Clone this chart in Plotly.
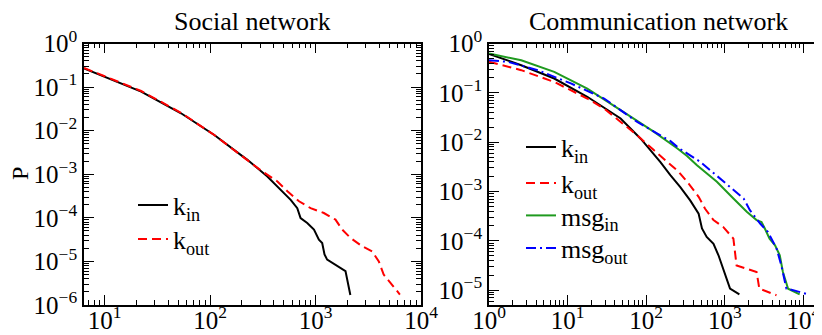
import plotly.graph_objects as go

# ---------------- data ----------------
# Social network (left panel)
soc_kin_x = [6.37, 10, 22.2, 53.0, 109.6, 195, 226, 349, 467, 581, 671, 721, 834, 966,
             1076, 1156, 1216, 1288, 1923, 2138]
soc_kin_p = [0.268, 0.174, 0.0785, 0.0251, 7.94e-3, 2.78e-3, 2.14e-3, 8.9e-4, 4.4e-4, 2.59e-4,
             1.67e-4, 9.9e-5, 7.6e-5, 5.4e-5, 3.16e-5, 2.65e-5, 1.45e-5, 1.10e-5, 6.0e-6, 1.7e-6]
soc_kout_x = [6.37, 10, 22.2, 53.0, 109.6, 195, 313, 435, 541, 697, 897, 1199, 1545, 1786,
              2143, 2754, 3436, 3981, 4426, 6310]
soc_kout_p = [0.275, 0.178, 0.0813, 0.0257, 7.94e-3, 2.75e-3, 1.16e-3, 6.84e-4, 4.07e-4, 2.40e-4,
              1.67e-4, 1.29e-4, 9.1e-5, 5.4e-5, 3.47e-5, 2.24e-5, 1.70e-5, 1.0e-5, 5.0e-6, 1.74e-6]

# Communication network (right panel)
com_kin_x = [1, 2.57, 6.76, 17.8, 47.3, 85.1, 151, 203, 272, 363, 465, 513, 589, 719, 832,
             955, 1059, 1167, 1535]
com_kin_p = [0.617, 0.363, 0.195, 0.0832, 0.0302, 0.01175, 3.98e-3, 2.14e-3, 1.23e-3, 6.6e-4,
             3.55e-4, 1.78e-4, 1.20e-4, 8.7e-5, 5.1e-5, 2.75e-5, 1.70e-5, 1.07e-5, 8.2e-6]
com_kout_x = [1, 2.57, 6.76, 17.8, 29.2, 76.9, 125, 185, 259, 347, 465, 562, 719, 955, 1288,
              1413, 1905, 2541, 2754, 4550]
com_kout_p = [0.427, 0.288, 0.166, 0.0767, 0.0479, 0.0138, 6.9e-3, 3.98e-3, 2.51e-3, 1.45e-3,
              7.8e-4, 4.47e-4, 2.63e-4, 1.91e-4, 1.11e-4, 3.16e-5, 2.75e-5, 2.34e-5, 1.07e-5, 7.9e-6]
com_msgin_x = [1, 2.57, 6.76, 17.8, 47.3, 126, 245, 331, 443, 794, 1288, 1905, 2541, 2938,
               3236, 3715, 4365, 5012, 5495, 6397, 8974]
com_msgin_p = [0.627, 0.457, 0.266, 0.122, 0.0447, 0.0162, 7.6e-3, 5.25e-3, 3.39e-3, 1.58e-3,
               7.2e-4, 3.89e-4, 2.63e-4, 2.40e-4, 1.78e-4, 1.11e-4, 8.1e-5, 5.1e-5, 2.34e-5,
               1.07e-5, 8.2e-6]
com_msgout_x = [1, 1.74, 4.17, 11.0, 29.2, 76.9, 204, 259, 490, 955, 1738, 2089, 2818, 3548,
                4571, 5248, 6095, 7413, 11482]
com_msgout_p = [0.457, 0.425, 0.288, 0.155, 0.0767, 0.0257, 0.0105, 7.6e-3, 3.98e-3, 1.58e-3,
                7.2e-4, 4.17e-4, 2.24e-4, 1.51e-4, 6.9e-5, 3.16e-5, 1.07e-5, 1.0e-5, 8.2e-6]

titles = ["Social network", "Communication network"]
y_title = "P"
names = ["k<sub>in</sub>", "k<sub>out</sub>", "msg<sub>in</sub>", "msg<sub>out</sub>"]

left_xticks = [1, 2, 3, 4]
left_yticks = [0, -1, -2, -3, -4, -5, -6]
right_xticks = [0, 1, 2, 3, 4]
right_yticks = [0, -1, -2, -3, -4, -5]

# ---------------- styling ----------------
W, H = 822, 335
FONT = "Liberation Serif, Times New Roman, serif"
BLACK = "#000000"
RED = "#ff0000"
GREEN = "#1f9a1f"
BLUE = "#0000ff"
DASH = "9px,5px"
DASHDOT = "10px,4px,2px,4px"


def px2x(p):
    return p / W


def py2y(p):
    return 1 - p / H


fig = go.Figure()

# each legend entry gets its own legend box so it can be placed like the reference
legend_pos = {
    "legend": (125, 197), "legend2": (125, 231),
    "legend3": (513, 139), "legend4": (513, 175), "legend5": (513, 207.5), "legend6": (513, 240),
}


def add(x, y, name, color, dash, xa, ya, legend):
    fig.add_trace(go.Scatter(x=x, y=y, name=name, mode="lines",
                             line=dict(color=color, width=2, dash=dash),
                             xaxis=xa, yaxis=ya, legend=legend))


add(soc_kin_x, soc_kin_p, names[0], BLACK, "solid", "x", "y", "legend")
add(soc_kout_x, soc_kout_p, names[1], RED, DASH, "x", "y", "legend2")
add(com_kin_x, com_kin_p, names[0], BLACK, "solid", "x2", "y2", "legend3")
add(com_kout_x, com_kout_p, names[1], RED, DASH, "x2", "y2", "legend4")
add(com_msgin_x, com_msgin_p, names[2], GREEN, "solid", "x2", "y2", "legend5")
add(com_msgout_x, com_msgout_p, names[3], BLUE, DASHDOT, "x2", "y2", "legend6")


def pw(e):
    return "10<sup>%s</sup>" % (str(e).replace("-", "\u2212"))


def minor_vals(lo, hi):
    return [m * 10.0 ** e for e in range(lo, hi) for m in range(2, 10)]


def axis(domain, rng, ticks_e, minor_lo, minor_hi, anchor, standoff):
    return dict(
        type="log", domain=domain, range=rng, anchor=anchor,
        tickmode="array", tickvals=[10.0 ** e for e in ticks_e],
        ticktext=[pw(e) for e in ticks_e],
        ticks="inside", ticklen=10, tickwidth=1, tickcolor=BLACK,
        showline=True, linewidth=1.6, linecolor=BLACK, mirror="allticks",
        showgrid=False, zeroline=False, automargin=False,
        ticklabelstandoff=standoff,
        tickfont=dict(family=FONT, size=25, color=BLACK),
        minor=dict(tickmode="array", tickvals=minor_vals(minor_lo, minor_hi),
                   ticks="inside", ticklen=5, tickwidth=1, tickcolor=BLACK, showgrid=False),
    )


ydom = [py2y(297), py2y(35.5)]
layout_legends = {}
for key, (lx, ly) in legend_pos.items():
    layout_legends[key] = dict(x=px2x(lx), y=py2y(ly), xanchor="left", yanchor="middle",
                               bgcolor="rgba(0,0,0,0)", borderwidth=0,
                               font=dict(family=FONT, size=26, color=BLACK))

fig.update_layout(
    width=W, height=H,
    margin=dict(l=0, r=0, t=0, b=0, autoexpand=False),
    paper_bgcolor="white", plot_bgcolor="white",
    font=dict(family=FONT, color=BLACK),
    xaxis=axis([px2x(76), px2x(413)], [0.804, 4.0], left_xticks, 0, 4, "y", -8),
    yaxis=axis(ydom, [-6, 0], left_yticks, -6, 0, "x", 0),
    xaxis2=axis([px2x(481), px2x(819)], [0, 4.301], right_xticks, 0, 5, "y2", -8),
    yaxis2=axis(ydom, [-5.301, 0], right_yticks, -6, 0, "x2", 0),
    showlegend=True,
    **layout_legends,
)

fig.add_annotation(text=titles[0], x=px2x(244.5), y=py2y(13), xref="paper", yref="paper",
                   showarrow=False, xanchor="center", yanchor="middle", height=24,
                   valign="middle", font=dict(family=FONT, size=26, color=BLACK))
fig.add_annotation(text=titles[1], x=px2x(650), y=py2y(13), xref="paper", yref="paper",
                   showarrow=False, xanchor="center", yanchor="middle", height=24,
                   valign="middle", font=dict(family=FONT, size=26, color=BLACK))
fig.add_annotation(text=y_title, x=px2x(12), y=py2y(166), xref="paper", yref="paper",
                   showarrow=False, xanchor="center", yanchor="middle", textangle=-90,
                   font=dict(family=FONT, size=24, color=BLACK))

fig.write_html("out.html")
